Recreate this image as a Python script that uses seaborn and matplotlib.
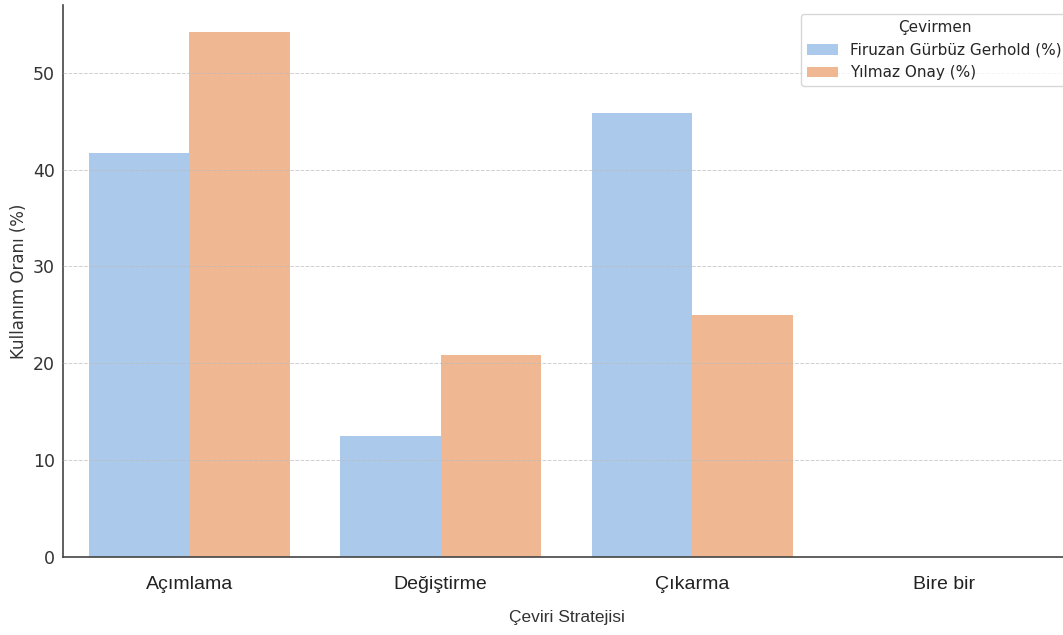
import pandas as pd
import matplotlib.pyplot as plt
import seaborn as sns

# data
strategies = ["Açımlama", "Değiştirme", "Çıkarma", "Bire bir"]
gerhold = [41.67, 12.5, 45.83, 0.0]
onay = [54.17, 20.83, 25.0, 0.0]
translators = ["Firuzan Gürbüz Gerhold (%)", "Yılmaz Onay (%)"]

df = pd.DataFrame({
    "Çeviri Stratejisi": strategies * 2,
    "Kullanım Oranı (%)": gerhold + onay,
    "Çevirmen": [translators[0]] * 4 + [translators[1]] * 4,
})

sns.set_style("white")
plt.rcParams["font.family"] = ["DejaVu Sans"]

fig = plt.figure(figsize=(10.63, 6.35), dpi=100)
ax = fig.add_axes([0.0597, 0.123, 0.9464, 0.869])

sns.barplot(data=df, x="Çeviri Stratejisi", y="Kullanım Oranı (%)",
            hue="Çevirmen", palette="pastel", linewidth=0, ax=ax)

ax.set_xlim(-0.5, 3.5)
ax.set_ylim(0, 57)
# grid sits over the bars, faint
ax.set_axisbelow(False)
ax.yaxis.grid(True, linestyle="--", color="#bbbbbb", linewidth=0.7, alpha=0.7)
sns.despine(ax=ax)
for s in ["left", "bottom"]:
    ax.spines[s].set_color("#444444")
    ax.spines[s].set_linewidth(1.2)

ax.tick_params(axis="both", direction="in", length=3.5, width=1, color="#555555")
ax.tick_params(axis="y", labelsize=12.5, labelcolor="#333333", pad=6)
ax.tick_params(axis="x", pad=14)
for lbl in ax.get_xticklabels():
    lbl.set_fontfamily(["Liberation Sans", "DejaVu Sans"])
    lbl.set_fontsize(14)
    lbl.set_color("#222222")
ax.set_xlabel("Çeviri Stratejisi", fontsize=12.5, family=["Liberation Sans", "DejaVu Sans"],
              color="#333333", labelpad=12)
ax.set_ylabel("Kullanım Oranı (%)", fontsize=12, color="#333333")

leg = ax.legend(title="Çevirmen", loc="upper right", bbox_to_anchor=(1.006, 0.998),
                fontsize=11, title_fontsize=11, frameon=True)
leg.get_frame().set_edgecolor("#cccccc")

fig.savefig("out.png", dpi=100)
